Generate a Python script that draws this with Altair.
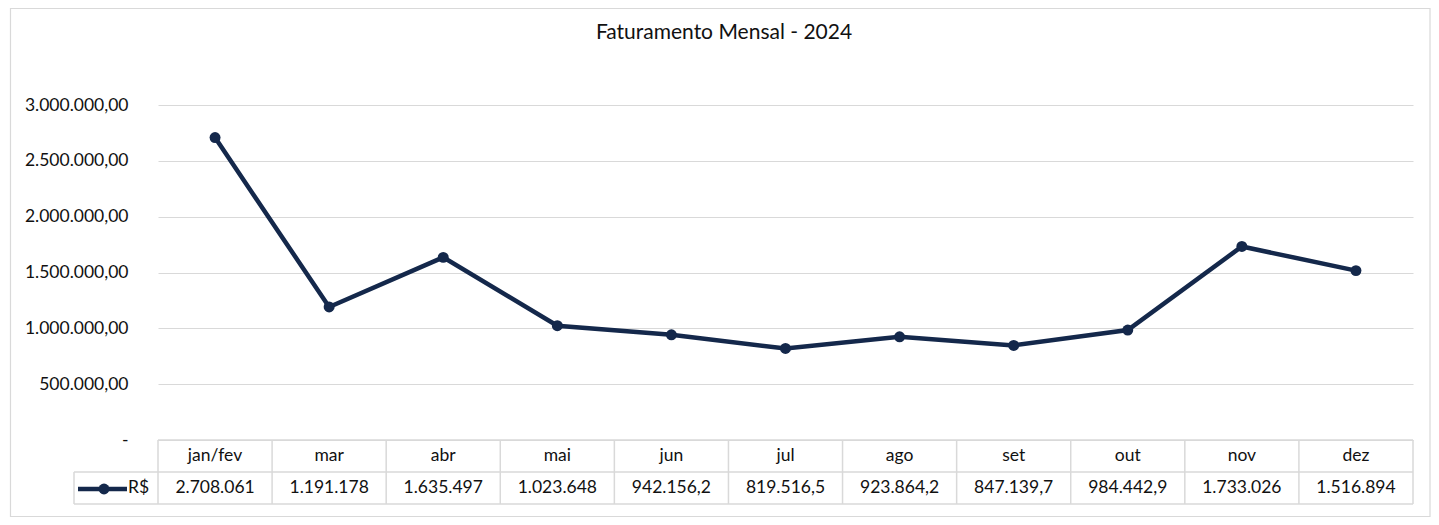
import altair as alt
import pandas as pd

# ---- data ----
months = ["jan/fev", "mar", "abr", "mai", "jun", "jul", "ago", "set", "out", "nov", "dez"]
values = [2708061, 1191178, 1635497, 1023648, 942156.2, 819516.5, 923864.2,
          847139.7, 984442.9, 1733026, 1516894]
y_ticks = [0, 500000, 1000000, 1500000, 2000000, 2500000, 3000000]
title_text = "Faturamento Mensal - 2024"
series_name = "R$"


def br(v):
    if v >= 1_000_000:
        s = f"{round(v):,}"
    else:
        s = f"{v:,.1f}"
    return s.replace(",", "X").replace(".", ",").replace("X", ".")


df = pd.DataFrame({"mes": months, "valor": values, "rotulo": [br(v) for v in values]})

# ---- layout ----
W, H = 1255, 335
FONT = "Lato"
NAVY = "#14284b"
GRID = "#d9d9d9"
TXT = "#111111"
FS = 17.5

xscale = alt.Scale(type="band", paddingInner=0, paddingOuter=0, domain=months)


def X(bp=0.5):
    return alt.X("mes:N", sort=months, scale=xscale, bandPosition=bp, axis=None)


one = pd.DataFrame({"k": [0]})
base = alt.Chart(df)

border = alt.Chart(one).mark_rect(filled=False, stroke=GRID, strokeWidth=1.2).encode(
    x=alt.value(-147.5), x2=alt.value(1272), y=alt.value(-96.5), y2=alt.value(411.5)
)

yenc = alt.Y(
    "valor:Q",
    scale=alt.Scale(domain=[0, 3000000], nice=False),
    title=None,
    axis=alt.Axis(
        values=y_ticks,
        format=",.2f",
        labelExpr="datum.value == 0 ? '-\u00a0\u00a0\u00a0' : datum.label",
        grid=True,
        gridColor=GRID,
        gridWidth=1,
        domain=False,
        ticks=False,
        labelPadding=30,
        labelFont=FONT,
        labelFontSize=FS,
        labelColor=TXT,
    ),
)

line = base.mark_line(color=NAVY, strokeWidth=4.5).encode(x=X(), y=yenc)
pts = base.mark_point(filled=True, color=NAVY, size=120, opacity=1).encode(x=X(), y=alt.Y("valor:Q"))

vrules = base.mark_rule(color=GRID, strokeWidth=1.5).encode(
    x=X(0), y=alt.value(335), y2=alt.value(399)
)
right_edge = alt.Chart(one).mark_rule(color=GRID, strokeWidth=1.5).encode(
    x=alt.value(W), y=alt.value(335), y2=alt.value(399)
)
left_edge = alt.Chart(one).mark_rule(color=GRID, strokeWidth=1.5).encode(
    x=alt.value(-84), y=alt.value(367), y2=alt.value(399)
)
h_top = alt.Chart(one).mark_rule(color=GRID, strokeWidth=1.5).encode(
    x=alt.value(0), x2=alt.value(W), y=alt.value(335)
)
h_mid = alt.Chart(one).mark_rule(color=GRID, strokeWidth=1.5).encode(
    x=alt.value(-84), x2=alt.value(W), y=alt.value(367)
)
h_bot = alt.Chart(one).mark_rule(color=GRID, strokeWidth=1.5).encode(
    x=alt.value(-84), x2=alt.value(W), y=alt.value(399)
)

header = base.mark_text(font=FONT, fontSize=FS, color=TXT, baseline="middle").encode(
    x=X(), y=alt.value(351), text="mes:N"
)
vals = base.mark_text(font=FONT, fontSize=FS, color=TXT, baseline="middle").encode(
    x=X(), y=alt.value(383), text="rotulo:N"
)

leg_line = alt.Chart(one).mark_rule(color=NAVY, strokeWidth=4.5).encode(
    x=alt.value(-80), x2=alt.value(-31), y=alt.value(384)
)
leg_pt = alt.Chart(one).mark_point(filled=True, color=NAVY, size=120, opacity=1).encode(
    x=alt.value(-54), y=alt.value(384)
)
leg_txt = alt.Chart(pd.DataFrame({"t": [series_name]})).mark_text(
    font=FONT, fontSize=FS, color=TXT, align="left", baseline="middle"
).encode(x=alt.value(-30), y=alt.value(383), text="t:N")

title = alt.Chart(pd.DataFrame({"t": [title_text]})).mark_text(
    font=FONT, fontSize=21, color=TXT, align="center", baseline="alphabetic"
).encode(x=alt.value(566), y=alt.value(-66), text="t:N")

chart = (
    alt.layer(border, line, pts, vrules, right_edge, left_edge, h_top, h_mid, h_bot,
              header, vals, leg_line, leg_pt, leg_txt, title)
    .properties(
        width=W,
        height=H,
        autosize=alt.AutoSizeParams(type="none"),
        padding={"left": 150, "top": 97, "right": 18, "bottom": 77},
        background="white",
    )
    .configure(
        locale={"number": {"decimal": ",", "thousands": ".", "grouping": [3],
                           "currency": ["R$ ", ""]}},
        view={"strokeWidth": 0},
    )
)

chart.save("out.html", embed_options={"renderer": "svg", "actions": False})
